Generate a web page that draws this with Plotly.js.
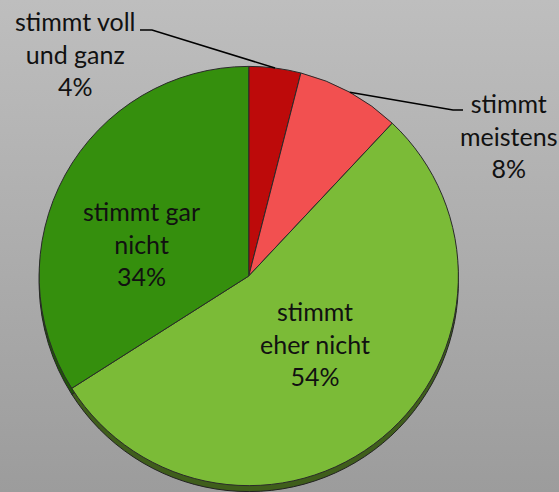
<!DOCTYPE html>
<html>
<head>
<meta charset="utf-8">
<script src="https://cdn.plot.ly/plotly-3.0.1.min.js"></script>
<style>
  html, body { margin: 0; padding: 0; }
  body { background: linear-gradient(#bebebe, #9c9c9c); width: 559px; height: 492px; }
</style>
</head>
<body>
<div id="myGraph" style="width:559px;height:492px;"></div>
<script>
// Daten
let labels = ['stimmt voll<br>und ganz', 'stimmt<br>meistens', 'stimmt<br>eher nicht', 'stimmt gar<br>nicht'];
let values = [4, 8, 54, 34];
let colors = ['#bd0a0a', '#f25050', '#7bbb37', '#358f0d'];
let rimColors = ['#6a0505', '#8a2c2c', '#3f5e1b', '#1f5508'];

let W = 559, H = 492;
let domX = [0.07, 0.82];
let domY = [0.012, 0.866];
let fontFam = 'Lato, Open Sans, sans-serif';

// pie center / radius in pixels (same rule as plotly)
let cx = W * (domX[0] + domX[1]) / 2;
let cy = H * (1 - (domY[0] + domY[1]) / 2);
let r = Math.min(W * (domX[1] - domX[0]), H * (domY[1] - domY[0])) / 2;

let total = values.reduce((a, b) => a + b, 0);

// rim (3D edge), slightly lower
let rim = {
    type: 'pie',
    values: values,
    sort: false,
    direction: 'clockwise',
    marker: { colors: rimColors, line: { color: '#222', width: 1 } },
    textinfo: 'none',
    hoverinfo: 'skip',
    showlegend: false,
    domain: { x: domX, y: [domY[0] - 6 / H, domY[1] - 6 / H] }
};

let trace1 = {
    type: 'pie',
    labels: labels,
    values: values,
    sort: false,
    direction: 'clockwise',
    marker: { colors: colors, line: { color: '#2a2a2a', width: 1 } },
    textinfo: 'none',
    showlegend: false,
    domain: { x: domX, y: domY }
};

// label positions (px); leader line start only for the small slices
let labelPos = [
    { tx: 75, ty: 54, lx: 140, ly: 30 },
    { tx: 508, ty: 135, lx: 463, ly: 110 },
    { tx: 315, ty: 343 },
    { tx: 141, ty: 243 }
];

let annotations = [];
let shapes = [];
let cum = 0;
values.forEach(function (v, i) {
    let mid = (cum + v / 2) / total * 2 * Math.PI;
    cum += v;
    let o = labelPos[i];
    annotations.push({
        text: labels[i] + '<br>' + Math.round(v / total * 100) + '%',
        x: o.tx / W, y: 1 - o.ty / H,
        xref: 'paper', yref: 'paper',
        xanchor: 'center', yanchor: 'middle',
        showarrow: false,
        font: { family: fontFam, size: 25, color: '#111' }
    });
    if (o.lx === undefined) return;
    let ex = cx + r * Math.sin(mid);
    let ey = cy - r * Math.cos(mid);
    let hx = i === 0 ? o.lx + 12 : o.lx - 10;
    shapes.push({
        type: 'path',
        xref: 'paper', yref: 'paper',
        path: 'M ' + (o.lx / W) + ' ' + (1 - o.ly / H) +
              ' L ' + (hx / W) + ' ' + (1 - o.ly / H) +
              ' L ' + (ex / W) + ' ' + (1 - ey / H),
        line: { color: '#000', width: 1.5 }
    });
});

let layout = {
    width: W,
    height: H,
    margin: { t: 0, r: 0, l: 0, b: 0 },
    paper_bgcolor: 'rgba(0,0,0,0)',
    plot_bgcolor: 'rgba(0,0,0,0)',
    annotations: annotations,
    shapes: shapes
};

Plotly.newPlot('myGraph', [rim, trace1], layout, { displayModeBar: false });
</script>
</body>
</html>
